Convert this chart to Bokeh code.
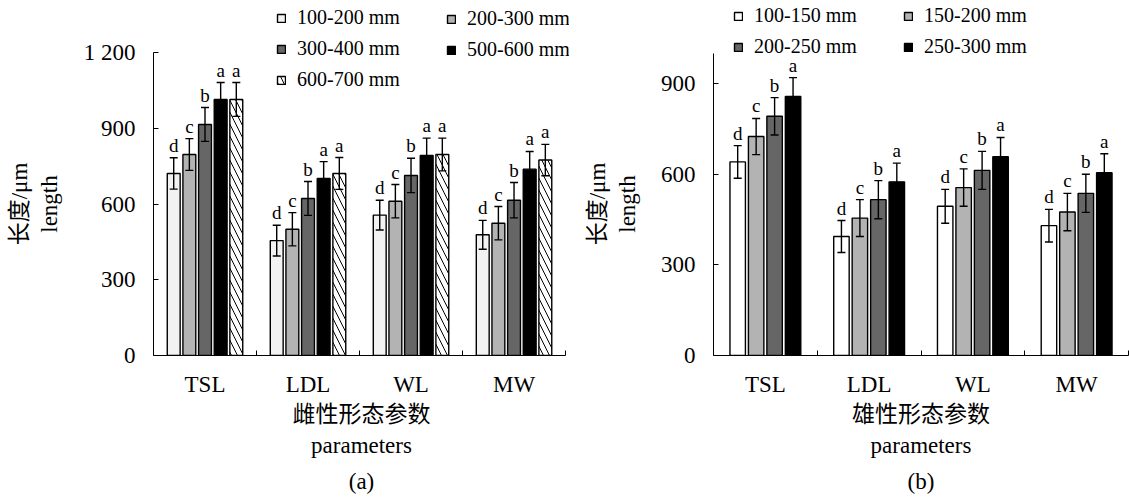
from bokeh.plotting import figure
from bokeh.models import (ColumnDataSource, Whisker, TeeHead, Legend, LegendItem,
                          FixedTicker, Range1d, Title, LinearAxis)
from bokeh.layouts import row
from bokeh.core.properties import value
from bokeh.embed import file_html
from bokeh.resources import INLINE

FONT = "Liberation Serif"
CJK = "Liberation Serif, Noto Sans CJK SC"

categories = ["TSL", "LDL", "WL", "MW"]

# (a) female
f_groups = ["100-200 mm", "200-300 mm", "300-400 mm", "500-600 mm", "600-700 mm"]
f_tsl = [721, 796, 915, 1014, 1014]
f_ldl = [455, 500, 622, 701, 721]
f_wl = [556, 611, 713, 792, 796]
f_mw = [478, 524, 615, 738, 774]
f_tsl_err = [62, 63, 67, 67, 67]
f_ldl_err = [61, 66, 67, 67, 63]
f_wl_err = [59, 66, 68, 69, 65]
f_mw_err = [57, 66, 70, 70, 62]
f_letters = ["d", "c", "b", "a", "a"]

# (b) male
m_groups = ["100-150 mm", "150-200 mm", "200-250 mm", "250-300 mm"]
m_tsl = [641, 725, 792, 858]
m_ldl = [394, 455, 516, 575]
m_wl = [494, 556, 613, 658]
m_mw = [430, 475, 537, 605]
m_tsl_err = [54, 60, 62, 62]
m_ldl_err = [53, 61, 63, 62]
m_wl_err = [56, 62, 63, 64]
m_mw_err = [54, 62, 63, 63]
m_letters = ["d", "c", "b", "a"]

f_yticks = [0, 300, 600, 900, 1200]
f_ytick_labels = ["0", "300", "600", "900", "1 200"]
m_yticks = [0, 300, 600, 900]
m_ytick_labels = ["0", "300", "600", "900"]

y_label_en = "length"
y_label_cn = "长度/μm"

H = 501
TOP = 52
BOTTOM = 146
FRAME_W = 416


def no_align(f):
    if "frame_align" in f.properties():
        f.frame_align = False


def label_fig(width, axis_x):
    f = figure(width=width, height=H, x_range=Range1d(0, 1), y_range=Range1d(0, 1),
               output_backend="svg", toolbar_location=None, title=None,
               x_axis_location=None, y_axis_location=None,
               min_border_left=axis_x, min_border_right=0,
               min_border_top=TOP, min_border_bottom=BOTTOM)
    f.outline_line_color = None
    f.grid.visible = False
    no_align(f)
    for txt, font, so in [(y_label_en, FONT, 16), (y_label_cn, CJK, 2)]:
        ax = LinearAxis(ticker=FixedTicker(ticks=[], minor_ticks=[]),
                        axis_line_color=None, major_tick_line_color=None,
                        minor_tick_line_color=None, major_tick_out=0, major_tick_in=0,
                        major_label_standoff=0, axis_label=txt,
                        axis_label_text_font=font, axis_label_text_font_size="23px",
                        axis_label_text_font_style="normal", axis_label_text_color="black",
                        axis_label_standoff=so)
        f.add_layout(ax, "left")
    return f


def make_panel(width, bl, br, x_end, groups, means, errs, letters, fills, hatches,
               ytop, axis_px, yticks, ytick_labels, bar_w, pitch, xtitle, caption, legend_cols):
    frame_h = H - BOTTOM
    yend = ytop * frame_h / axis_px
    p = figure(width=width, height=H, x_range=Range1d(0, x_end), y_range=Range1d(0, yend),
               output_backend="svg", toolbar_location=None, title=None,
               min_border_left=bl, min_border_right=br, min_border_top=0,
               min_border_bottom=BOTTOM)
    p.outline_line_color = None
    p.grid.visible = False
    no_align(p)

    n = len(groups)
    renderers = []
    for k in range(n):
        off = (k - (n - 1) / 2) * pitch
        xs = [i + 0.5 + off for i in range(len(categories))]
        tops = [means[c][k] for c in range(len(categories))]
        es = [errs[c][k] for c in range(len(categories))]
        src = ColumnDataSource(dict(
            x=xs, top=tops,
            upper=[t + e for t, e in zip(tops, es)],
            lower=[t - e for t, e in zip(tops, es)],
            letter=[letters[k]] * len(categories)))
        r = p.vbar(x="x", top="top", width=bar_w, bottom=0, source=src,
                   fill_color=fills[k], line_color="black", line_width=1.4,
                   hatch_pattern=hatches[k], hatch_color="black", hatch_scale=12, hatch_weight=1)
        renderers.append(r)
        w = Whisker(source=src, base="x", upper="upper", lower="lower", dimension="height",
                    line_color="black", line_width=1.4, level="annotation",
                    upper_head=TeeHead(size=8, line_width=1.4, line_color="black"),
                    lower_head=TeeHead(size=8, line_width=1.4, line_color="black"))
        p.add_layout(w)
        p.text(x="x", y="upper", text="letter", source=src, text_align="center",
               text_baseline="bottom", y_offset=-2, text_font=value(FONT),
               text_font_size="19px", text_color="black")

    ncat = len(categories)
    # x axis
    xa = p.xaxis[0]
    xa.bounds = (0, ncat)
    xa.ticker = FixedTicker(ticks=[i + 0.5 for i in range(ncat)],
                            minor_ticks=[i + 1 for i in range(ncat)])
    xa.major_label_overrides = {i + 0.5: c for i, c in enumerate(categories)}
    xa.major_tick_line_color = None
    xa.minor_tick_in = 5
    xa.minor_tick_out = 0
    xa.minor_tick_line_color = "black"
    xa.axis_line_color = "black"
    xa.major_label_text_font = FONT
    xa.major_label_text_font_size = "23px"
    xa.major_label_text_color = "black"
    xa.major_label_standoff = 10
    xa.axis_label = xtitle
    xa.axis_label_text_font = CJK
    xa.axis_label_text_font_size = "23px"
    xa.axis_label_text_font_style = "normal"
    xa.axis_label_text_color = "black"
    xa.axis_label_standoff = 2

    # y axis
    ya = p.yaxis[0]
    ya.bounds = (0, ytop)
    ya.ticker = FixedTicker(ticks=yticks, minor_ticks=[])
    ya.major_label_overrides = {t: l for t, l in zip(yticks, ytick_labels)}
    ya.major_tick_in = 5
    ya.major_tick_out = 0
    ya.minor_tick_line_color = None
    ya.axis_line_color = "black"
    ya.major_label_text_font = FONT
    ya.major_label_text_font_size = "23px"
    ya.major_label_text_color = "black"
    ya.major_label_standoff = 18

    p.add_layout(Title(text="parameters", text_font=FONT, text_font_size="23px",
                       text_font_style="normal", text_color="black",
                       align="center", standoff=2), "below")
    p.add_layout(Title(text=caption, text_font=FONT, text_font_size="23px",
                       text_font_style="normal", text_color="black",
                       align="center", standoff=16), "below")

    for idxs, lx, ly in legend_cols:
        leg = Legend(items=[LegendItem(label=groups[i], renderers=[renderers[i]]) for i in idxs],
                     location=(lx, ly), orientation="vertical",
                     glyph_width=10, glyph_height=10, label_standoff=11,
                     label_height=20, spacing=8, padding=0, margin=0,
                     border_line_alpha=0, background_fill_alpha=0,
                     label_text_font=FONT, label_text_font_size="20px",
                     label_text_color="black")
        p.add_layout(leg)
    return p


# left block: label figure 0..80, panel 80..569 (frame 149..569, axis 149..565)
L1 = label_fig(80, 77)
p1 = make_panel(489, 69, 0, 4 * (569 - 149) / FRAME_W, f_groups,
                [f_tsl, f_ldl, f_wl, f_mw], [f_tsl_err, f_ldl_err, f_wl_err, f_mw_err],
                f_letters, ["#f2f2f2", "#b3b3b3", "#666666", "#000000", "#ffffff"],
                [" ", " ", " ", " ", "\\"],
                1200, 303, f_yticks, f_ytick_labels, 13 / 104, 15.8 / 104,
                "雌性形态参数", "(a)",
                [([0, 2, 4], 123, 264), ([1, 3], 293, 294)])

# right block: label figure 569..657, panel 657..1129 (frame 712..1128)
L2 = label_fig(88, 86)
p2 = make_panel(472, 55, 1, 4, m_groups,
                [m_tsl, m_ldl, m_wl, m_mw], [m_tsl_err, m_ldl_err, m_wl_err, m_mw_err],
                m_letters, ["#ffffff", "#b3b3b3", "#666666", "#000000"],
                [" ", " ", " ", " "],
                1000, 302, m_yticks, m_ytick_labels, 15.5 / 104, 18.5 / 104,
                "雄性形态参数", "(b)",
                [([0, 2], 20, 297), ([1, 3], 190, 297)])

layout = row(L1, p1, L2, p2, spacing=0)
open("out.html", "w").write(file_html(layout, INLINE))
